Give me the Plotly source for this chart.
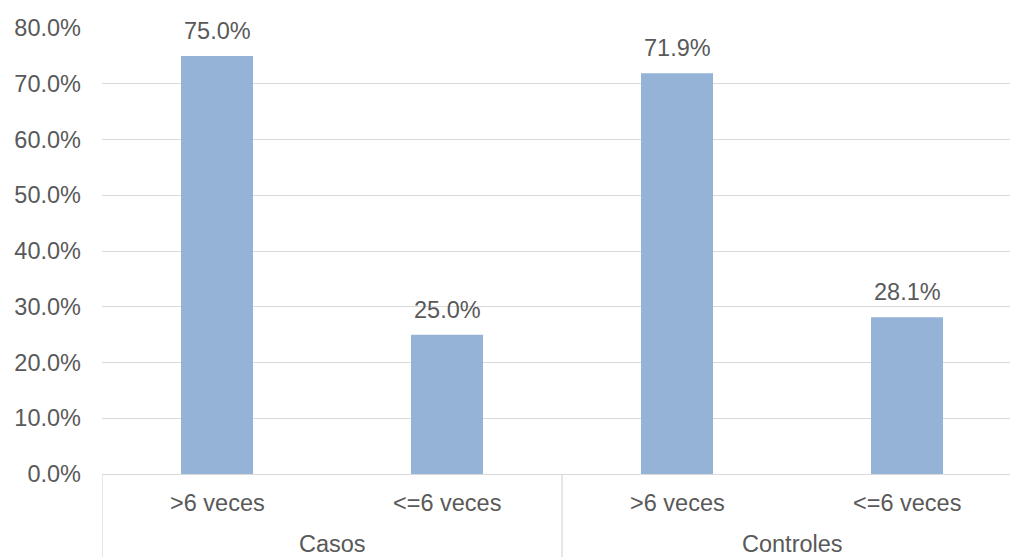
import plotly.graph_objects as go

groups = ["Casos", "Casos", "Controles", "Controles"]
subcats = [">6 veces", "<=6 veces", ">6 veces", "<=6 veces"]
values = [0.75, 0.25, 0.719, 0.281]
group_names = ["Casos", "Controles"]
ytick_vals = [0, 0.1, 0.2, 0.3, 0.4, 0.5, 0.6, 0.7, 0.8]

FONT = "Liberation Sans, Arial, sans-serif"
FS = 23.5
TXT = "#595959"
GRID = "#d9d9d9"

W, H = 1010, 557
ml, mr, mt, mb = 102, 0, 28, 83
plot_h = H - mt - mb
slot_px = 230
xs = list(range(len(values)))
xmax = -0.5 + (W - ml - mr) / slot_px

fig = go.Figure()
fig.add_trace(go.Bar(
    x=xs, y=values, width=0.313,
    marker=dict(color="#95B3D7", line=dict(width=0)),
    hoverinfo="skip",
))

# value labels
for x, v in zip(xs, values):
    fig.add_annotation(x=x, y=v, text=f"{v*100:.1f}%", showarrow=False,
                       yanchor="bottom", yshift=10,
                       font=dict(family=FONT, size=FS, color=TXT))

# category labels
for x, s in zip(xs, subcats):
    fig.add_annotation(x=x, y=0, yref="y", text=s, showarrow=False,
                       yanchor="middle", yshift=-29,
                       font=dict(family=FONT, size=FS, color=TXT))

# group labels + separators
bounds = []
for g in group_names:
    idx = [i for i, gg in enumerate(groups) if gg == g]
    cx = (idx[0] + idx[-1]) / 2
    fig.add_annotation(x=cx, y=0, text=g, showarrow=False,
                       yanchor="middle", yshift=-70, borderpad=0,
                       font=dict(family=FONT, size=FS, color=TXT))
    bounds += [idx[0] - 0.5, idx[-1] + 0.5]
for b in sorted(set(bounds)):
    fig.add_shape(type="line", x0=b, x1=b, xref="x", yref="paper",
                  y0=0, y1=-mb / plot_h, line=dict(color=GRID, width=1.3))

fig.update_layout(
    width=W, height=H,
    margin=dict(l=ml, r=mr, t=mt, b=mb),
    plot_bgcolor="white", paper_bgcolor="white",
    showlegend=False,
    xaxis=dict(range=[-0.5, xmax], showticklabels=False, showgrid=False,
               zeroline=False, showline=True, linecolor=GRID, linewidth=1.3,
               fixedrange=True),
    yaxis=dict(range=[0, 0.8], tickvals=ytick_vals, tickformat=".1%",
               showgrid=True, gridcolor=GRID, gridwidth=1.3, zeroline=False,
               showline=False, ticks="", ticklabelstandoff=20,
               tickfont=dict(family=FONT, size=FS, color=TXT), fixedrange=True),
)

fig.write_html("out.html")
